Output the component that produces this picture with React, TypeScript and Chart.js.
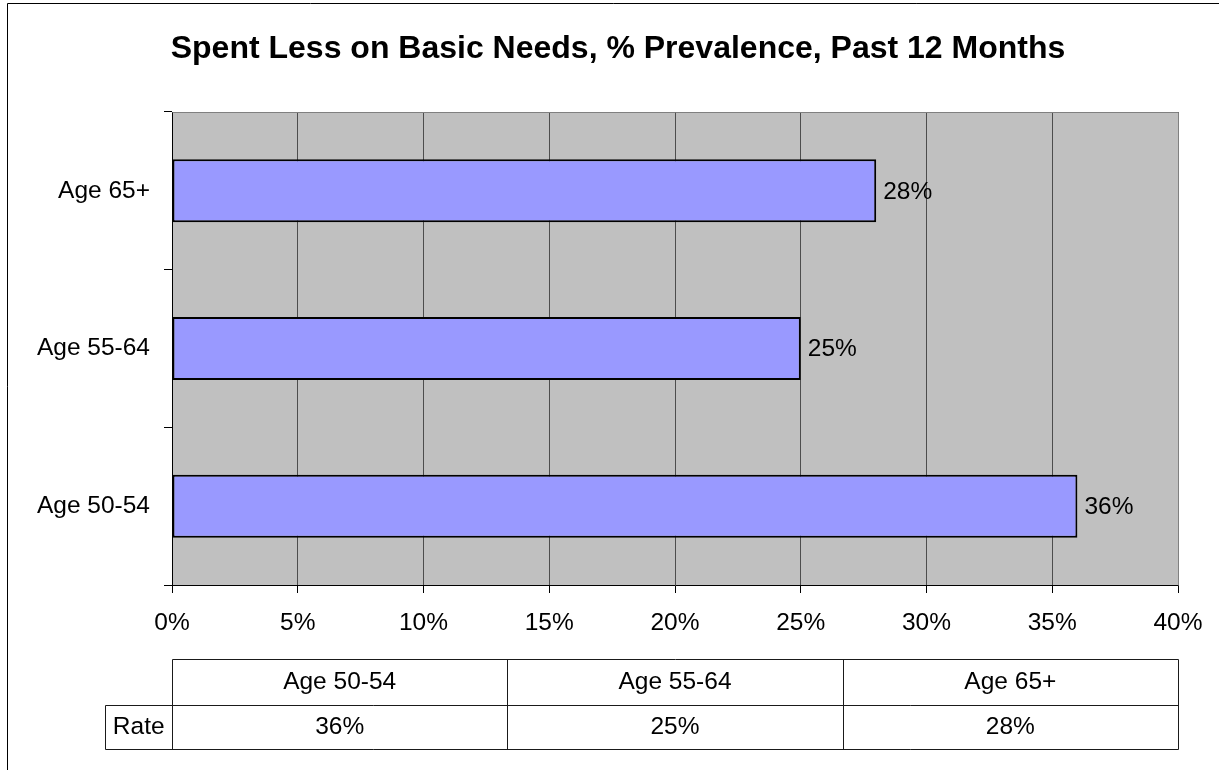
import React, { useEffect, useRef } from "react";
import { Chart, registerables } from "chart.js";

Chart.register(...registerables);

const categories = ["Age 50-54", "Age 55-64", "Age 65+"];
const rates = [36, 25, 28];
const rowLabel = "Rate";
const titleText = "Spent Less on Basic Needs, % Prevalence, Past 12 Months";
const xMin = 0;
const xMax = 40;
const xStep = 5;

const FONT = "'Liberation Sans', Arial, sans-serif";
const FS = 24.5;

const W = 1219;
const H = 770;

const framePlugin = {
  id: "frame",
  beforeDraw(chart: any) {
    const { ctx, chartArea } = chart;
    ctx.save();
    ctx.fillStyle = "#ffffff";
    ctx.fillRect(0, 0, chart.width, chart.height);
    ctx.strokeStyle = "#000";
    ctx.lineWidth = 1;
    ctx.beginPath();
    ctx.moveTo(7.5, chart.height);
    ctx.lineTo(7.5, 3.5);
    ctx.lineTo(chart.width, 3.5);
    ctx.stroke();
    ctx.fillStyle = "#C0C0C0";
    ctx.fillRect(chartArea.left, chartArea.top, chartArea.right - chartArea.left, chartArea.bottom - chartArea.top);
    ctx.restore();
  },
  afterDraw(chart: any) {
    const { ctx, chartArea } = chart;
    ctx.save();
    ctx.strokeStyle = "#808080";
    ctx.lineWidth = 1;
    ctx.beginPath();
    ctx.moveTo(Math.round(chartArea.left) + 0.5, Math.round(chartArea.top) + 0.5);
    ctx.lineTo(Math.round(chartArea.right) + 0.5, Math.round(chartArea.top) + 0.5);
    ctx.lineTo(Math.round(chartArea.right) + 0.5, Math.round(chartArea.bottom) + 0.5);
    ctx.stroke();

    ctx.fillStyle = "#000";
    ctx.font = `bold 32px ${FONT}`;
    ctx.textAlign = "center";
    ctx.textBaseline = "alphabetic";
    ctx.fillText(titleText, 618, 58);

    ctx.font = `${FS}px ${FONT}`;
    ctx.textAlign = "left";
    ctx.textBaseline = "middle";
    const meta = chart.getDatasetMeta(0);
    meta.data.forEach((bar: any, i: number) => {
      ctx.fillText(rates[i] + "%", bar.x + 7, bar.y + 1);
    });

    const L = chartArea.left;
    const R = chartArea.right;
    const top = 659.5;
    const mid = 705.5;
    const bot = 749.5;
    const rateLeft = 105.5;
    const n = categories.length;
    const colW = (R - L) / n;
    ctx.strokeStyle = "#1a1a1a";
    ctx.lineWidth = 1;
    ctx.beginPath();
    ctx.moveTo(L + 0.5, top);
    ctx.lineTo(R + 0.5, top);
    ctx.moveTo(rateLeft, mid);
    ctx.lineTo(R + 0.5, mid);
    ctx.moveTo(rateLeft, bot);
    ctx.lineTo(R + 0.5, bot);
    ctx.moveTo(rateLeft, mid);
    ctx.lineTo(rateLeft, bot);
    for (let i = 0; i <= n; i++) {
      const x = Math.round(L + colW * i) + 0.5;
      ctx.moveTo(x, top);
      ctx.lineTo(x, bot);
    }
    ctx.stroke();

    ctx.fillStyle = "#000";
    ctx.textAlign = "center";
    ctx.textBaseline = "middle";
    categories.forEach((c, i) => {
      const cx = L + colW * (i + 0.5);
      ctx.fillText(c, cx, (top + mid) / 2);
      ctx.fillText(rates[i] + "%", cx, (mid + bot) / 2);
    });
    ctx.fillText(rowLabel, (rateLeft + L) / 2, (mid + bot) / 2);
    ctx.restore();
  },
};

export default function App() {
  const ref = useRef<HTMLCanvasElement | null>(null);

  useEffect(() => {
    if (!ref.current) return;
    const chart = new Chart(ref.current, {
      type: "bar",
      data: {
        labels: categories,
        datasets: [
          {
            data: rates,
            backgroundColor: "#9999FF",
            borderColor: "#000000",
            borderWidth: 2,
            borderSkipped: false,
            barPercentage: 0.4,
            categoryPercentage: 1,
          },
        ],
      },
      options: {
        indexAxis: "y",
        responsive: false,
        animation: false,
        devicePixelRatio: 1,
        layout: { padding: { top: 112, right: 41, bottom: 0, left: 0 } },
        plugins: {
          legend: { display: false },
          title: { display: false },
          tooltip: { enabled: false },
        },
        scales: {
          x: {
            type: "linear",
            position: "bottom",
            min: xMin,
            max: xMax,
            ticks: {
              stepSize: xStep,
              color: "#000",
              padding: 16,
              font: { family: FONT, size: FS },
              callback: (v: any) => v + "%",
              maxRotation: 0,
            },
            grid: {
              color: "#4d4d4d",
              tickColor: "#000",
              tickLength: 8,
              lineWidth: 1,
            },
            border: { color: "#000", width: 1 },
            afterFit: (s: any) => {
              s.height = 185;
            },
          },
          y: {
            type: "category",
            reverse: true,
            ticks: {
              color: "#000",
              padding: 14,
              font: { family: FONT, size: FS },
            },
            grid: {
              drawOnChartArea: false,
              drawTicks: true,
              tickLength: 8,
              color: "#000",
              tickColor: "#000",
            },
            border: { color: "#000", width: 1 },
            afterFit: (s: any) => {
              s.width = 172;
            },
          },
        },
      },
      plugins: [framePlugin],
    });
    return () => chart.destroy();
  }, []);

  return (
    <div style={{ position: "fixed", left: 0, top: 0, width: W, height: H, background: "#fff" }}>
      <canvas ref={ref} width={W} height={H} style={{ display: "block", width: W, height: H }} />
    </div>
  );
}
